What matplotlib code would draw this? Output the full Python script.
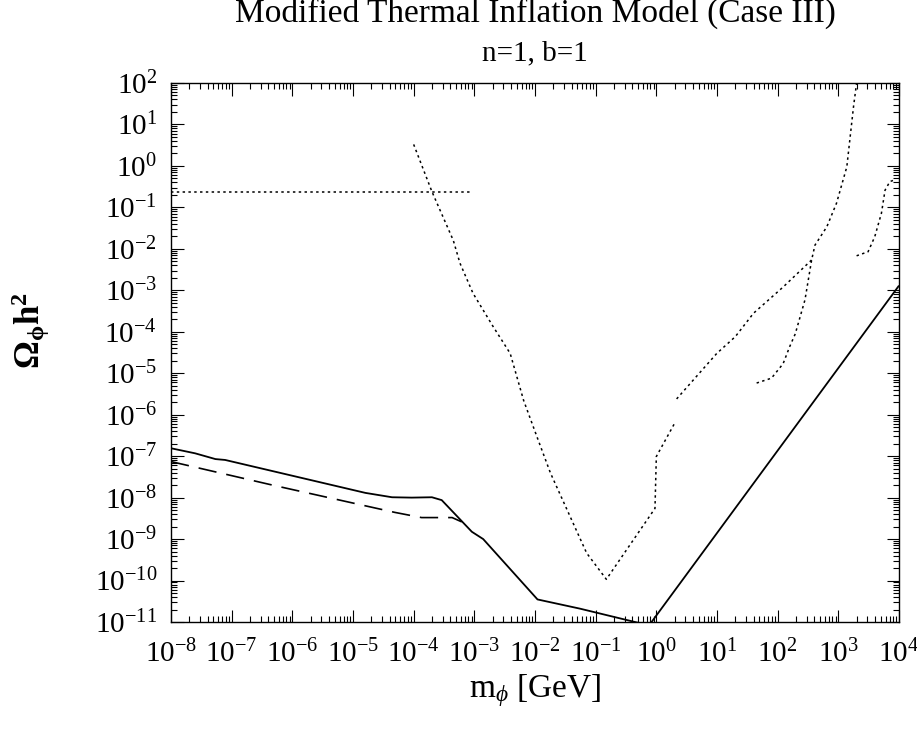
import matplotlib
matplotlib.use("Agg")
import matplotlib.pyplot as plt
from matplotlib.ticker import LogLocator, LogFormatterMathtext, NullFormatter

plt.rcParams["font.family"] = ["Liberation Serif", "DejaVu Serif"]
plt.rcParams["mathtext.fontset"] = "custom"
plt.rcParams["mathtext.rm"] = "Liberation Serif"
plt.rcParams["mathtext.it"] = "Liberation Serif:italic"
plt.rcParams["mathtext.bf"] = "Liberation Serif:bold"

# solid curve
solid_m = [1e-8, 2.5e-8, 5.4e-8, 7.8e-8, 1.6e-5, 4.4e-5, 9.3e-5, 2.0e-4, 2.9e-4,
           9.1e-4, 1.4e-3, 1.1e-2, 5.5e-2, 0.42, 0.76, 1e4]
solid_omega = [1.55e-7, 1.17e-7, 8.5e-8, 8.1e-8, 1.3e-8, 1.02e-8, 1.0e-8, 1.02e-8, 8.7e-9,
               1.5e-9, 1.0e-9, 3.5e-11, 2.1e-11, 1.02e-11, 8.3e-12, 1.3e-3]

# long dashed curve
dash_m = [1e-8, 5.1e-7, 4.9e-5, 1.35e-4, 4.3e-4, 6.2e-4]
dash_omega = [7.4e-8, 1.95e-8, 4.4e-9, 3.3e-9, 3.3e-9, 2.6e-9]

# horizontal dotted line
hline_m = [1e-8, 9e-4]
hline_omega = [0.24, 0.24]

# dotted V-shaped curve
vcurve_m = [1e-4, 2.0e-4, 4.5e-4, 5.8e-4, 9.5e-4, 2.0e-3, 3.9e-3, 6.5e-3, 1.1e-2,
            1.8e-2, 7.1e-2, 0.15, 0.95, 1.0, 2.0]
vcurve_omega = [3.3, 0.24, 1.6e-2, 4.5e-3, 8.5e-4, 1.4e-4, 3.0e-5, 2.2e-6, 2.7e-7,
                3.9e-8, 4.6e-10, 1.07e-10, 5.5e-9, 9.8e-8, 6.2e-7]

# dotted diagonal
diag_m = [2.16, 9.9, 20, 40, 123, 363]
diag_omega = [2.4e-6, 3.0e-5, 7.6e-5, 2.8e-4, 1.2e-3, 5.4e-3]

# dotted steep curve
steep_m = [45, 79, 123, 158, 195, 282, 363, 412, 646, 933, 1380, 1780, 2000, 2090]
steep_omega = [5.8e-6, 7.6e-6, 1.7e-5, 4.4e-5, 8.9e-5, 5.9e-4, 5.4e-3, 1.23e-2, 3.4e-2,
               0.126, 0.95, 27, 100, 200]

# dotted curve at the right edge
right_m = [2000, 3090, 3980, 5130, 5890, 7080, 8510]
right_omega = [6.8e-3, 8.5e-3, 1.95e-2, 7.2e-2, 0.26, 0.42, 0.46]

fig = plt.figure(figsize=(9.17, 7.30), dpi=100)
ax = fig.add_axes([171 / 917, 1 - 622 / 730, 728 / 917, 539 / 730])

ax.plot(solid_m, solid_omega, color="black", lw=1.3, solid_capstyle="butt")
ax.plot(dash_m, dash_omega, color="black", lw=1.2, linestyle=(0, (11, 6)))
dot = (0, (1.6, 2.2))
ax.plot(hline_m, hline_omega, color="black", lw=1.1, linestyle=dot)
ax.plot(vcurve_m, vcurve_omega, color="black", lw=1.1, linestyle=dot)
ax.plot(diag_m, diag_omega, color="black", lw=1.1, linestyle=dot)
ax.plot(steep_m, steep_omega, color="black", lw=1.1, linestyle=dot)
ax.plot(right_m, right_omega, color="black", lw=1.1, linestyle=dot)

ax.set_xscale("log")
ax.set_yscale("log")
ax.set_xlim(1e-8, 1e4)
ax.set_ylim(1e-11, 1e2)

for axis in (ax.xaxis, ax.yaxis):
    axis.set_major_locator(LogLocator(base=10, numticks=30))
    axis.set_minor_locator(LogLocator(base=10, subs=range(2, 10), numticks=30))
    axis.set_major_formatter(LogFormatterMathtext())
    axis.set_minor_formatter(NullFormatter())

ax.tick_params(which="both", direction="in", top=True, right=True, width=0.8)
ax.tick_params(which="major", length=9, labelsize=21)
ax.tick_params(which="minor", length=4.5)
ax.tick_params(axis="x", which="major", pad=13)
ax.tick_params(axis="y", which="major", pad=10)
for s in ax.spines.values():
    s.set_linewidth(1.0)

ax.set_xlabel(r"m$_\phi$ [GeV]", fontsize=24)
ax.xaxis.set_label_coords(0.5, -0.093)
ax.set_ylabel(r"$\mathbf{\Omega_{\phi} h^2}$", fontsize=25)
ax.yaxis.set_label_coords(-0.163, 0.54)

fig.text(535 / 917, 1 - 22 / 730, "Modified Thermal Inflation Model (Case III)",
         ha="center", va="baseline", fontsize=24)
fig.text(535 / 917, 1 - 60 / 730, "n=1, b=1", ha="center", va="baseline", fontsize=21)

fig.savefig("out.png", dpi=100)
